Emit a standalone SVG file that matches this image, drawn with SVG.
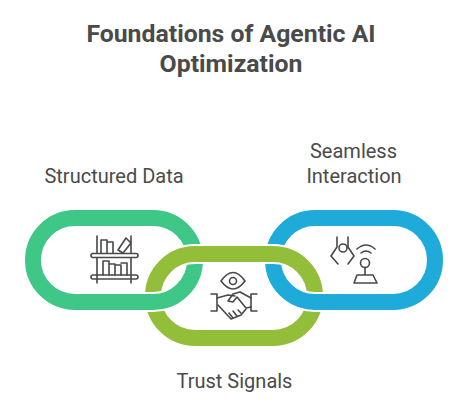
<svg xmlns="http://www.w3.org/2000/svg" width="468" height="411" viewBox="0 0 468 411">
<style>
.t{font-family:Roboto,"Liberation Sans",sans-serif;fill:#4a4a4a;text-anchor:middle}
.title{font-size:24.800px;font-weight:700}
.lab{font-size:20px}
.ring{fill:none;stroke-width:16}
.halo{fill:none;stroke:#fff;stroke-width:20}
.ic{fill:none;stroke:#484848;stroke-width:1.600;stroke-linecap:round;stroke-linejoin:round}
</style>
<defs>
<rect id="r1" x="33" y="218" width="162" height="84" rx="42"/>
<rect id="r2" x="153" y="254" width="162" height="84" rx="42"/>
<rect id="r3" x="273" y="218" width="162" height="84" rx="42"/>
<clipPath id="c1"><rect x="140" y="285" width="45" height="33"/></clipPath>
<clipPath id="c2"><rect x="285" y="285" width="45" height="33"/></clipPath>
</defs>
<rect width="468" height="411" fill="#fff"/>
<g id="title">
<text class="t title" x="231" y="42">Foundations of Agentic AI</text>
<text class="t title" x="231" y="72">Optimization</text>
</g>
<g id="connectors">
<use href="#r1" class="ring" stroke="#3EC787"/>
<use href="#r3" class="ring" stroke="#1EABDA"/>
<use href="#r2" class="halo"/>
<use href="#r2" class="ring" stroke="#93BE3A"/>
<g clip-path="url(#c1)"><use href="#r1" class="halo"/><use href="#r1" class="ring" stroke="#3EC787"/></g>
<g clip-path="url(#c2)"><use href="#r3" class="halo"/><use href="#r3" class="ring" stroke="#1EABDA"/></g>
</g>
<g id="node-structured-data">
<text class="t lab" x="114" y="183">Structured Data</text>
<g class="ic">
<path d="M97 236V253M131 236V253M97 258V283M131 258V283"/>
<rect x="91" y="253.500" width="47" height="4" rx="2"/>
<rect x="91" y="275" width="47" height="4" rx="2"/>
<path d="M101 253V240H107V253M107 242H113V253"/>
<path d="M118 250L126 238L131 243L123 253Z"/>
<path d="M103 275V261H109V275M109 264H115V275M115 265H121V275M121 263H127V275"/>
</g>
</g>
<g id="node-trust-signals">
<text class="t lab" x="234.500" y="388">Trust Signals</text>
<g class="ic">
<path d="M221 281Q233 264 245 281Q233 297 221 281Z"/>
<circle cx="233" cy="281" r="3.500"/>
<path d="M211 294H217V311H211M257 294H251V311H257"/>
<path d="M217 298L228 295L235 296"/>
<path d="M251 298L240 292L233 294L228 301L233 302L237 297L246 308L251 307"/>
<path d="M246 309L241 315L231 319L218 305"/>
<path d="M241 313L238 310M237 316L233 311M233 318L229 313"/>
</g>
</g>
<g id="node-seamless-interaction">
<text class="t lab" x="353.500" y="158">Seamless</text>
<text class="t lab" x="354" y="183">Interaction</text>
<g class="ic">
<circle cx="343" cy="248" r="4"/>
<path d="M337 237V247M348 237V247M337 247L331 256L338 264M348 247L354 256L348 264"/>
<path d="M357 249Q366 241 375 249M361 253Q366 249 371 253"/>
<circle cx="365" cy="263" r="4.500"/>
<path d="M365 267.500V275M354 283L357 275H373L377 283Z"/>
</g>
</g>
</svg>
